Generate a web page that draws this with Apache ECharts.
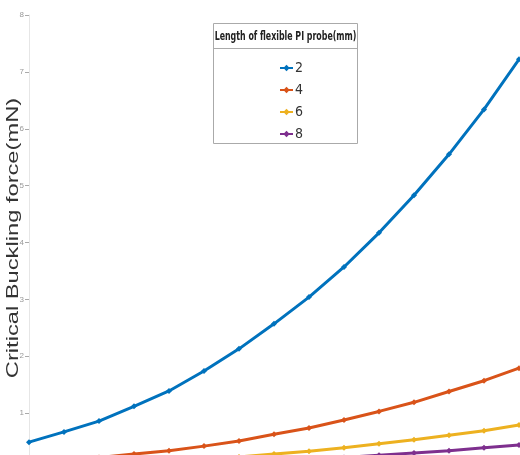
<!DOCTYPE html>
<html>
<head>
<meta charset="utf-8">
<script src="https://cdn.jsdelivr.net/npm/echarts@6/dist/echarts.min.js"></script>
<style>html,body{margin:0;padding:0;background:#fff;}#c{width:520px;height:455px;}</style>
</head>
<body>
<div id="c"></div>
<script>
// Data
const categories = ['1','2','3','4','5','6','7','8','9','10','11','12','13','14','15'];
const seriesNames = ['2', '4', '6', '8'];
const len2 = [0.49, 0.67, 0.86, 1.12, 1.39, 1.74, 2.13, 2.57, 3.04, 3.57, 4.17, 4.83, 5.55, 6.34, 7.22];
const len4 = [0.12, 0.17, 0.22, 0.28, 0.34, 0.42, 0.51, 0.63, 0.74, 0.88, 1.03, 1.19, 1.38, 1.57, 1.79];
const len6 = [0.05, 0.07, 0.10, 0.12, 0.15, 0.19, 0.23, 0.28, 0.33, 0.39, 0.46, 0.53, 0.61, 0.69, 0.79];
const len8 = [0.03, 0.04, 0.05, 0.07, 0.09, 0.11, 0.13, 0.16, 0.19, 0.22, 0.26, 0.30, 0.34, 0.39, 0.44];
const yTicks = [0, 1, 2, 3, 4, 5, 6, 7, 8];
const legendTitle = 'Length of flexible PI probe(mm)';
const yTitle = 'Critical Buckling force(mN)';

const colors = ['#0072BD', '#D95319', '#EDB120', '#7E2F8E'];
const narrow = "'Liberation Sans Narrow', 'DejaVu Sans Condensed', 'Arial Narrow', sans-serif";
const allData = [len2, len4, len6, len8];

const chart = echarts.init(document.getElementById('c'), null, {renderer: 'canvas'});
chart.setOption({
  animation: false,
  backgroundColor: '#fff',
  color: colors,
  grid: {left: 29, right: 1, top: 15, bottom: -15, containLabel: false, outerBoundsMode: 'none'},
  xAxis: {type: 'category', data: categories, boundaryGap: false, show: false},
  yAxis: {
    type: 'value', min: yTicks[0], max: yTicks[yTicks.length - 1], interval: 1,
    axisLine: {show: true, lineStyle: {color: '#e6e6e6', width: 1}},
    axisTick: {show: true, inside: false, length: 4, lineStyle: {color: '#aaa'}},
    axisLabel: {fontSize: 8, color: '#999', margin: 5, fontFamily: "'Liberation Sans', Arial, sans-serif"},
    splitLine: {show: false}
  },
  legend: {
    data: seriesNames, orient: 'vertical', left: 274, top: 56,
    itemWidth: 13, itemHeight: 8, itemGap: 8,
    textStyle: {fontSize: 14, lineHeight: 14, color: '#333', fontFamily: narrow, padding: [0,0,0,-3]}
  },
  graphic: [
    {type: 'text', x: 14, y: 238, rotation: Math.PI / 2, scaleX: 1.48, z: 0,
     style: {text: yTitle, fill: '#333', font: "16px 'Liberation Sans', Arial, sans-serif", textAlign: 'center', textVerticalAlign: 'middle'}},
    {type: 'rect', shape: {x: 213.5, y: 23.5, width: 144, height: 120},
     style: {fill: 'rgba(0,0,0,0)', stroke: '#aaa', lineWidth: 1}, z: 100},
    {type: 'line', shape: {x1: 213.5, y1: 48.5, x2: 357.5, y2: 48.5},
     style: {stroke: '#aaa', lineWidth: 1}, z: 100},
    {type: 'text', x: 285.5, y: 37, scaleX: 0.73, z: 100,
     style: {text: legendTitle, fill: '#222', font: "bold 12px " + narrow, textAlign: 'center', textVerticalAlign: 'middle'}}
  ],
  series: allData.map((d, i) => ({
    name: seriesNames[i], type: 'line', data: d,
    symbol: 'diamond', symbolSize: 6, showSymbol: true,
    lineStyle: {width: 3, color: colors[i]},
    itemStyle: {color: colors[i]},
    clip: true
  }))
});
</script>
</body>
</html>
